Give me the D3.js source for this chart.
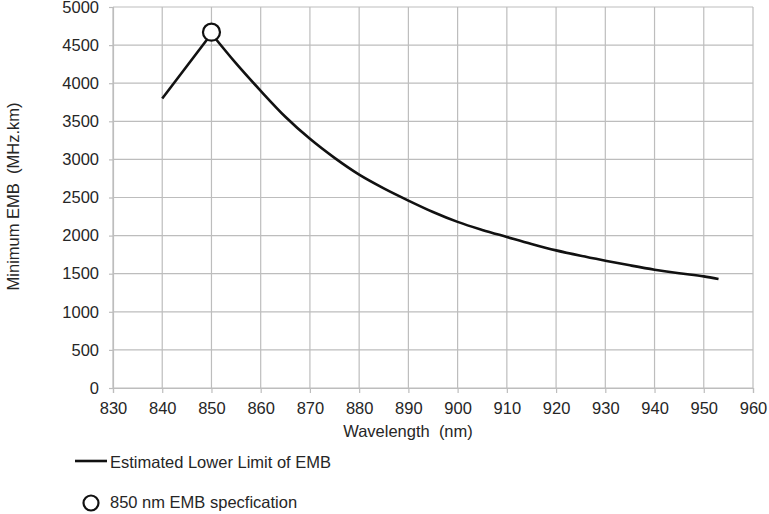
<!DOCTYPE html>
<html>
<head>
<meta charset="utf-8">
<script src="https://cdn.jsdelivr.net/npm/d3@7"></script>
<style>
  body { margin: 0; background: #fff; }
  text { font-family: 'Liberation Sans', Arial, sans-serif; fill: #262626; }
</style>
</head>
<body>
<svg id="chart" width="769" height="514"></svg>
<script>
// wavelength (nm) and lower-limit EMB (MHz.km)
const wavelengths = [840, 850, 855, 860, 865, 870, 875, 880, 885, 890, 895, 900, 905, 910, 915, 920, 925, 930, 935, 940, 945, 950, 953]
const embValues = [3800, 4650, 4260, 3900, 3560, 3270, 3020, 2800, 2620, 2460, 2310, 2180, 2075, 1982, 1890, 1806, 1735, 1671, 1610, 1553, 1505, 1465, 1430]
const specPoint = [{ x: 850, y: 4670 }]
const xTicks = d3.range(830, 961, 10)
const yTicks = d3.range(0, 5001, 500)
const legendLabels = ['Estimated Lower Limit of EMB', '850 nm EMB specfication']

const fontSize = 16.5
const svg = d3.select('#chart')
const margin = { left: 113, right: 16, top: 7, bottom: 126 }
const width = 769 - margin.left - margin.right
const height = 514 - margin.top - margin.bottom

let x = d3.scaleLinear().domain([830, 960]).range([0, width])
let y = d3.scaleLinear().domain([0, 5000]).range([height, 0])

let g = svg.append('g')
  .attr('transform', 'translate(' + [margin.left, margin.top].join(',') + ')')

// grid
g.append('g').selectAll('line').data(yTicks).join('line')
  .attr('x1', 0).attr('x2', width)
  .attr('y1', d => y(d)).attr('y2', d => y(d))
  .attr('stroke', '#bdbdbd').attr('stroke-width', 1.2)
g.append('g').selectAll('line').data(xTicks).join('line')
  .attr('x1', d => x(d)).attr('x2', d => x(d))
  .attr('y1', 0).attr('y2', height)
  .attr('stroke', '#bdbdbd').attr('stroke-width', 1.2)

// axes
let xAxis = g.append('g')
  .attr('transform', 'translate(0,' + height + ')')
  .call(d3.axisBottom(x).tickValues(xTicks).tickSize(5).tickPadding(9).tickFormat(d3.format('d')))
let yAxis = g.append('g')
  .call(d3.axisLeft(y).tickValues(yTicks).tickSize(4).tickPadding(10).tickFormat(d3.format('d')))
;[xAxis, yAxis].forEach(function(ax) {
  ax.select('.domain').attr('stroke', '#bdbdbd').attr('stroke-width', 1.2)
  ax.selectAll('.tick line').attr('stroke', '#bdbdbd').attr('stroke-width', 1.2)
  ax.selectAll('.tick text').attr('font-size', fontSize).style('fill', '#262626')
    .attr('font-family', "'Liberation Sans', Arial, sans-serif")
})

// axis titles
g.append('text')
  .attr('x', 408 - margin.left).attr('y', 437 - margin.top)
  .attr('text-anchor', 'middle').attr('font-size', fontSize)
  .attr('xml:space', 'preserve')
  .text('Wavelength  (nm)')
g.append('text')
  .attr('transform', 'translate(' + [-94.5, height / 2 - 1].join(',') + ') rotate(-90)')
  .attr('text-anchor', 'middle').attr('font-size', fontSize)
  .attr('xml:space', 'preserve')
  .text('Minimum EMB  (MHz.km)')

// curve: straight rise to the peak, smooth decay after it
let series = wavelengths.map((w, i) => ({ x: w, y: embValues[i] }))
let peak = d3.maxIndex(series, d => d.y)
let rise = d3.line().x(d => x(d.x)).y(d => y(d.y))
let decay = d3.line().x(d => x(d.x)).y(d => y(d.y)).curve(d3.curveMonotoneX)
g.append('path')
  .attr('d', rise(series.slice(0, peak + 1)) + decay(series.slice(peak)).replace(/^M/, 'L'))
  .attr('fill', 'none').attr('stroke', '#111').attr('stroke-width', 2.6)
  .attr('stroke-linejoin', 'round')

g.selectAll('circle.spec').data(specPoint).join('circle')
  .attr('class', 'spec')
  .attr('cx', d => x(d.x)).attr('cy', d => y(d.y)).attr('r', 8.5)
  .attr('fill', '#fff').attr('stroke', '#111').attr('stroke-width', 2.2)

// legend
let legend = svg.append('g')
legend.append('line')
  .attr('x1', 75).attr('x2', 107).attr('y1', 461).attr('y2', 461)
  .attr('stroke', '#111').attr('stroke-width', 2.6)
legend.append('text')
  .attr('x', 110).attr('y', 468).attr('font-size', fontSize)
  .text(legendLabels[0])
legend.append('circle')
  .attr('cx', 91).attr('cy', 503).attr('r', 7.5)
  .attr('fill', '#fff').attr('stroke', '#111').attr('stroke-width', 2.2)
legend.append('text')
  .attr('x', 110).attr('y', 508).attr('font-size', fontSize)
  .text(legendLabels[1])
</script>
</body>
</html>
